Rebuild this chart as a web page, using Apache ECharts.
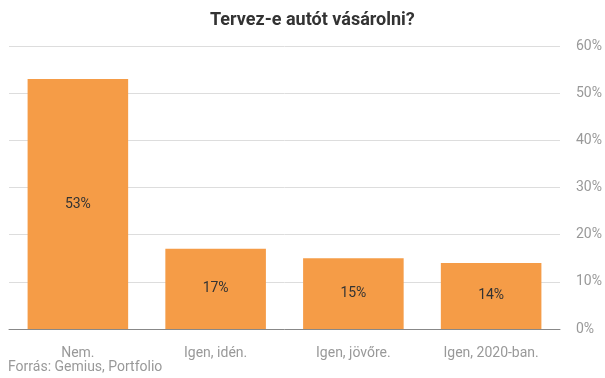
<!DOCTYPE html>
<html><head><meta charset="utf-8">
<script src="https://cdn.jsdelivr.net/npm/echarts@6/dist/echarts.min.js"></script>
<style>html,body{margin:0;padding:0;background:#fff}#c{width:605px;height:378px}</style>
</head><body><div id="c"></div>
<script>
const categories = ["Nem.", "Igen, idén.", "Igen, jövőre.", "Igen, 2020-ban."];
const values = [53, 17, 15, 14];
const yTicks = [0, 10, 20, 30, 40, 50, 60];
const chart = echarts.init(document.getElementById('c'));
chart.setOption({
  animation: false,
  title: {text: "Tervez-e autót vásárolni?", left: 205, top: 6,
    textStyle: {fontFamily: 'Roboto', fontWeight: 'bold', fontSize: 18, color: '#333'}},
  graphic: [{type: 'text', left: 8, top: 360, style: {text: "Forrás: Gemius, Portfolio", fontFamily: 'Roboto', fontSize: 14, fill: '#999'}}],
  grid: {left: 9, right: 45, top: 46, bottom: 49},
  xAxis: {type: 'category', data: categories,
    axisLine: {lineStyle: {color: '#888'}}, axisTick: {show: false},
    axisLabel: {fontFamily: 'Roboto', fontSize: 14, color: '#999', margin: 17}},
  yAxis: {type: 'value', position: 'right', min: yTicks[0], max: yTicks[yTicks.length-1], interval: 10,
    axisLine: {show: false}, axisTick: {show: false},
    splitLine: {lineStyle: {color: '#ddd'}},
    axisLabel: {fontFamily: 'Roboto', fontSize: 14, color: '#999', margin: 16, formatter: '{value}%'}},
  series: [{type: 'bar', data: values, barCategoryGap: '27%',
    itemStyle: {color: '#f59c47'},
    label: {show: true, position: 'inside', formatter: '{c}%', fontFamily: 'Roboto', fontSize: 14, color: '#333'}}]
});
</script></body></html>
